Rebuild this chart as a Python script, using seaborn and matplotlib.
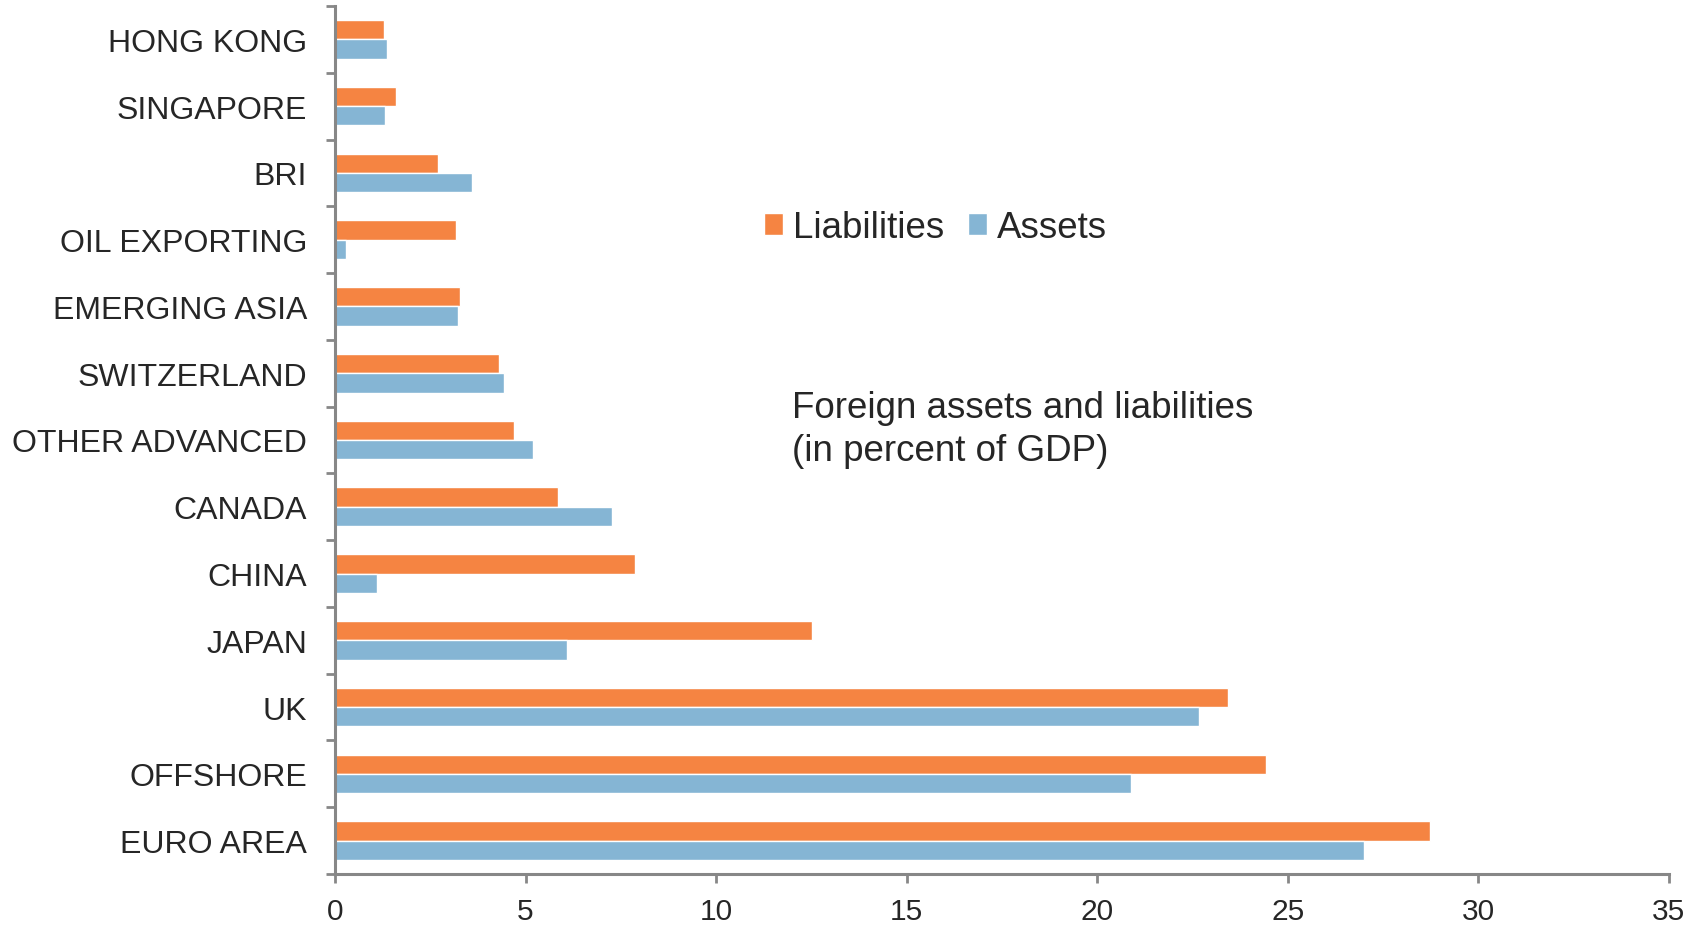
import pandas as pd
import seaborn as sns
import matplotlib.pyplot as plt

# Data (percent of GDP)
regions = ['HONG KONG', 'SINGAPORE', 'BRI', 'OIL EXPORTING', 'EMERGING ASIA',
           'SWITZERLAND', 'OTHER ADVANCED', 'CANADA', 'CHINA', 'JAPAN', 'UK',
           'OFFSHORE', 'EURO AREA']
liabilities = [1.29, 1.6, 2.71, 3.17, 3.29, 4.31, 4.69, 5.86, 7.86, 12.51, 23.43, 24.43, 28.74]
assets = [1.37, 1.31, 3.6, 0.29, 3.23, 4.43, 5.2, 7.26, 1.09, 6.09, 22.66, 20.89, 27.0]

df = pd.DataFrame({'Region': regions * 2,
                   'Value': liabilities + assets,
                   'Series': ['Liabilities'] * len(regions) + ['Assets'] * len(regions)})

sns.set_style('white')
plt.rcParams['font.family'] = ['Liberation Sans', 'DejaVu Sans']

fig = plt.figure(figsize=(17.03, 9.29), dpi=100)
ax = fig.add_axes([0.1967, 0.0581, 0.7833, 0.9344])

sns.barplot(data=df, x='Value', y='Region', hue='Series', order=regions,
            hue_order=['Liabilities', 'Assets'],
            palette={'Liabilities': '#F58442', 'Assets': '#85B5D4'},
            width=0.58, saturation=1, ax=ax)

grey = '#878787'
ax.set_xlim(0, 35)
ax.set_ylim(len(regions) - 0.5, -0.5)
ax.set_xticks(range(0, 36, 5))
ax.set_yticks(range(len(regions)))
ax.set_yticks([i - 0.5 for i in range(len(regions) + 1)], minor=True)  # ticks between categories
ax.tick_params(axis='y', which='major', length=0, pad=20, labelsize=23)
ax.tick_params(axis='y', which='minor', length=6.5, width=2, color=grey, direction='out', left=True)
ax.tick_params(axis='x', length=6.5, width=2, color=grey, direction='out', bottom=True,
               pad=10, labelsize=21.5)
ax.set_xlabel('')
ax.set_ylabel('')
for s in ['top', 'right']:
    ax.spines[s].set_visible(False)
for s in ['left', 'bottom']:
    ax.spines[s].set_color(grey)
    ax.spines[s].set_linewidth(2.2)

ax.legend(loc='center left', bbox_to_anchor=(0.3216, 0.745), frameon=False, ncol=2,
          fontsize=26.5, handlelength=0.52, handleheight=0.52, handletextpad=0.27,
          columnspacing=0.65, borderpad=0, borderaxespad=0)

# baseline here lines up the last line of the text
ax.text(0.3426, 0.4767, 'Foreign assets and liabilities\n(in percent of GDP)',
        transform=ax.transAxes, fontsize=26.5, va='baseline', ha='left', linespacing=1.32)

fig.savefig('out.png', dpi=100)
